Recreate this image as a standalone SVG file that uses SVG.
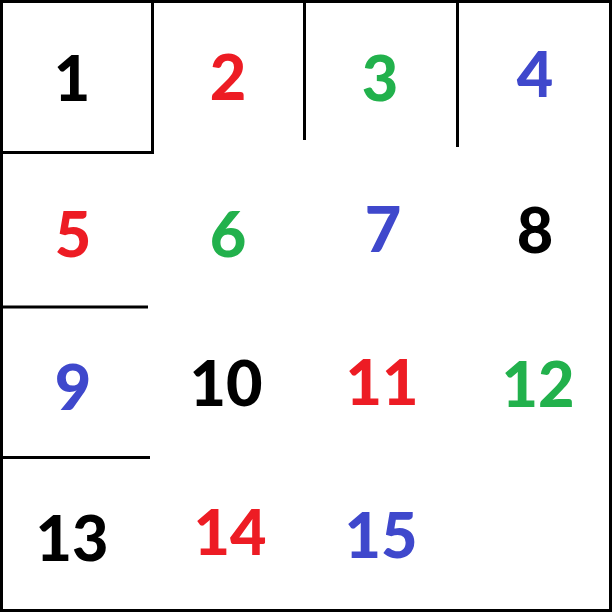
<svg xmlns="http://www.w3.org/2000/svg" width="612" height="612" viewBox="0 0 612 612">
<style>
.ln{stroke:#000;stroke-width:3;fill:none}
.t{font-family:Lato,"Open Sans","Liberation Sans",sans-serif;font-weight:900;font-size:63px;text-anchor:middle}
.r{fill:#ED1C24}.g{fill:#22B14C}.b{fill:#3F48CC}.k{fill:#000}
</style>
<rect x="0" y="0" width="612" height="612" fill="#fff"/>
<g id="connectors">
<rect x="1.5" y="1.5" width="609" height="609" class="ln"/>
<line x1="152.5" y1="0" x2="152.5" y2="153" class="ln"/>
<line x1="0" y1="152.5" x2="154" y2="152.5" class="ln"/>
<line x1="304.5" y1="0" x2="304.5" y2="140" class="ln"/>
<line x1="457.5" y1="0" x2="457.5" y2="147" class="ln"/>
<line x1="0" y1="307" x2="148" y2="307" class="ln"/>
<line x1="0" y1="457.5" x2="150" y2="457.5" class="ln"/>
</g>
<g id="n1"><text x="72" y="101" class="t k">1</text></g>
<g id="n2"><text x="228" y="100" class="t r">2</text></g>
<g id="n3"><text x="380" y="101" class="t g">3</text></g>
<g id="n4"><text x="535" y="97" class="t b">4</text></g>
<g id="n5"><text x="73" y="257" class="t r">5</text></g>
<g id="n6"><text x="228" y="257" class="t g">6</text></g>
<g id="n7"><text x="383" y="252" class="t b">7</text></g>
<g id="n8"><text x="535" y="253" class="t k">8</text></g>
<g id="n9"><text x="73" y="410" class="t b">9</text></g>
<g id="n10"><text x="226" y="406" class="t k">10</text></g>
<g id="n11"><text x="382" y="405" class="t r">11</text></g>
<g id="n12"><text x="538" y="407" class="t g">12</text></g>
<g id="n13"><text x="72" y="561" class="t k">13</text></g>
<g id="n14"><text x="230" y="555" class="t r">14</text></g>
<g id="n15"><text x="381" y="558" class="t b">15</text></g>
</svg>
